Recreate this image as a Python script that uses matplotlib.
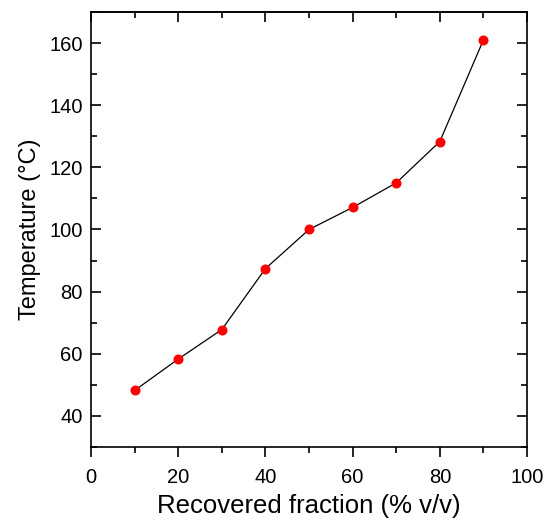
import matplotlib
matplotlib.use("Agg")
import matplotlib.pyplot as plt
from matplotlib.ticker import MultipleLocator

plt.rcParams['font.family'] = ['Liberation Sans', 'DejaVu Sans']

# recovered volume fraction (% v/v) and distillation temperature (°C)
fraction = [10, 20, 30, 40, 50, 60, 70, 80, 90]
temperature = [48.2, 58.3, 67.8, 87.4, 100.0, 107.1, 115.0, 128.3, 161.0]

fig = plt.figure(figsize=(5.5, 5.23), dpi=100)
ax = fig.add_axes([0.1655, 0.1453, 0.7927, 0.8318])

ax.plot(fraction, temperature, color='black', lw=0.9, zorder=2)
ax.plot(fraction, temperature, 'o', color='#ff0000', ms=6.2, mec='#ff0000', zorder=3)

ax.set_xlim(0, 100)
ax.set_ylim(30, 170)
ax.xaxis.set_major_locator(MultipleLocator(20))
ax.xaxis.set_minor_locator(MultipleLocator(10))
ax.yaxis.set_major_locator(MultipleLocator(20))
ax.yaxis.set_minor_locator(MultipleLocator(10))
ax.set_yticks(range(40, 161, 20))

for s in ax.spines.values():
    s.set_linewidth(1.2)

# bottom ticks point out, the other three sides point in
ax.tick_params(axis='x', which='both', direction='out', top=False, width=1.2, labelsize=14.5, pad=8)
ax.tick_params(axis='x', which='major', length=7)
ax.tick_params(axis='x', which='minor', length=4.5)
ax.tick_params(axis='y', which='both', direction='in', right=True, width=1.2, labelsize=14.5, pad=6)
ax.tick_params(axis='y', which='major', length=7.5)
ax.tick_params(axis='y', which='minor', length=4.5)

top = ax.secondary_xaxis('top')
top.xaxis.set_major_locator(MultipleLocator(20))
top.xaxis.set_minor_locator(MultipleLocator(10))
top.tick_params(which='both', direction='in', width=1.2, labeltop=False)
top.tick_params(which='major', length=7.5)
top.tick_params(which='minor', length=4.5)
top.spines['top'].set_linewidth(1.2)

ax.set_xlabel('Recovered fraction (% v/v)', fontsize=18.5, labelpad=5)
ax.set_ylabel('Temperature (°C)', fontsize=17, labelpad=6)

fig.savefig('out.png', dpi=100)
